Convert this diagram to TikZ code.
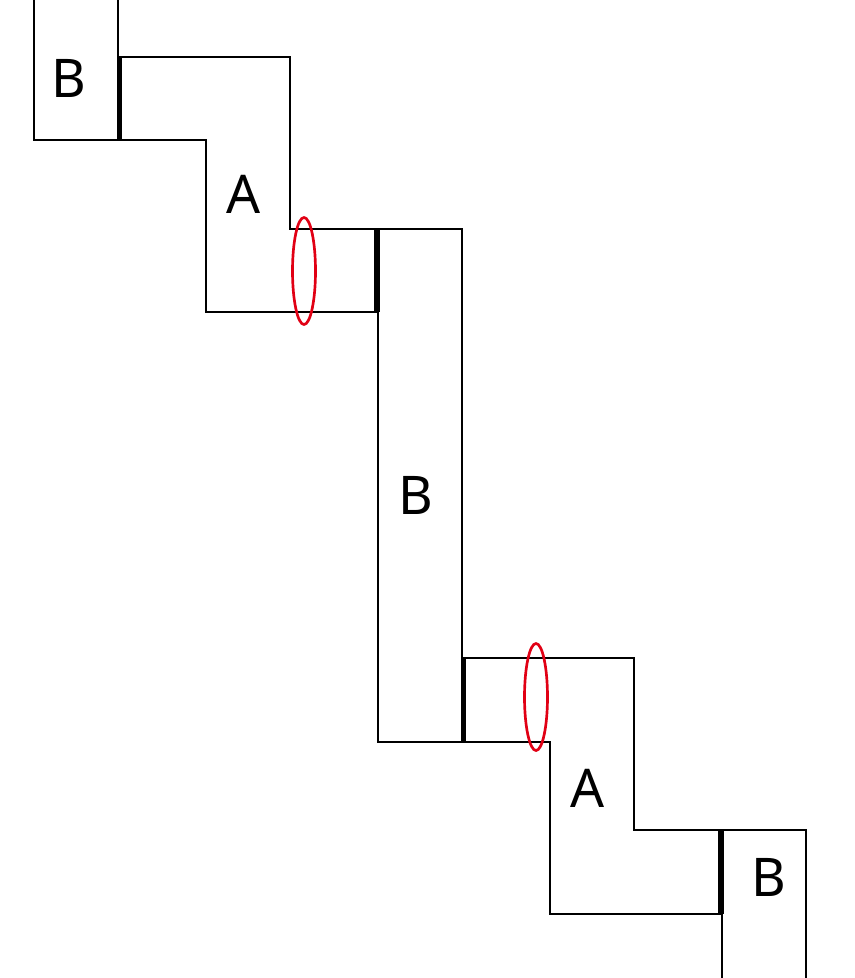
\documentclass[tikz,border=0pt]{standalone}
\usepackage{fontspec}
\setsansfont{Noto Sans}
\begin{document}
\begin{tikzpicture}[x=0.75pt,y=-0.75pt,
  edge/.style={draw=black,line width=2.1pt,line join=miter},
  joint/.style={draw=black,line width=3.9pt},
  ring/.style={draw={rgb,255:red,225;green,0;blue,20},line width=2pt},
  lbl/.style={font=\sffamily\fontsize{40}{40}\selectfont,inner sep=0pt}]
\useasboundingbox (0,0) rectangle (855,978);
\clip (0,0) rectangle (855,978);
% top B
\draw[edge] (34,-10) -- (34,140) -- (118,140) -- (118,-10);
% top A
\draw[edge] (118,57) -- (290,57) -- (290,229) -- (378,229) -- (378,312) -- (206,312) -- (206,140) -- (118,140) -- cycle;
% middle B
\draw[edge] (378,229) rectangle (462,742);
% bottom A
\draw[edge] (462,658) -- (634,658) -- (634,830) -- (722,830) -- (722,914) -- (550,914) -- (550,742) -- (462,742) -- cycle;
% bottom B
\draw[edge] (722,990) -- (722,830) -- (806,830) -- (806,990);
% joints
\coordinate (j1a) at (119.5,57); \coordinate (j1b) at (119.5,140);
\coordinate (j2a) at (377,229); \coordinate (j2b) at (377,312);
\coordinate (j3a) at (463.5,658); \coordinate (j3b) at (463.5,742);
\coordinate (j4a) at (721,830); \coordinate (j4b) at (721,914);
\draw[joint] (j1a) -- (j1b);
\draw[joint] (j2a) -- (j2b);
\draw[joint] (j3a) -- (j3b);
\draw[joint] (j4a) -- (j4b);
% rings
\draw[ring] (304,271) ellipse [x radius=11.5, y radius=53.5];
\draw[ring] (536,697) ellipse [x radius=11.5, y radius=53.5];
% labels
\node[lbl] (b1) at (69,78) {B};
\node[lbl] (a1) at (244,194) {A};
\node[lbl] (b2) at (416,495) {B};
\node[lbl] (a2) at (588,788) {A};
\node[lbl] (b3) at (769,877) {B};
\end{tikzpicture}
\end{document}
